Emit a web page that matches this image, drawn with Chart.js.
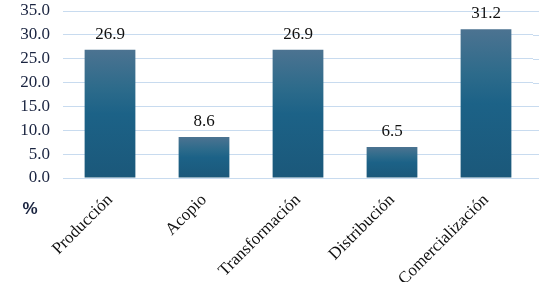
<!DOCTYPE html>
<html>
<head>
<meta charset="utf-8">
<script src="https://cdn.jsdelivr.net/npm/chart.js@4/dist/chart.umd.min.js"></script>
<style>
  html, body { margin: 0; padding: 0; background: #ffffff; }
  #wrap { width: 539px; height: 282px; }
</style>
</head>
<body>
<div id="wrap"><canvas id="c" width="539" height="282"></canvas></div>
<script>
const categories = ['Producción', 'Acopio', 'Transformación', 'Distribución', 'Comercialización'];
const values = [26.9, 8.6, 26.9, 6.5, 31.2];
const yTicks = [0, 5, 10, 15, 20, 25, 30, 35];
const unitLabel = '%';

const serif = '"Liberation Serif", "Times New Roman", serif';

const valueLabels = {
  id: 'valueLabels',
  afterDatasetsDraw(chart) {
    const ctx = chart.ctx;
    const meta = chart.getDatasetMeta(0);
    ctx.save();
    ctx.font = '17px ' + serif;
    ctx.fillStyle = '#111111';
    ctx.textAlign = 'center';
    ctx.textBaseline = 'alphabetic';
    meta.data.forEach((bar, i) => {
      ctx.fillText(values[i].toFixed(1), bar.x, bar.y - 11);
    });
    ctx.restore();
  }
};

const unitText = {
  id: 'unitText',
  afterDraw(chart) {
    const ctx = chart.ctx;
    ctx.save();
    ctx.font = 'bold 17px "Liberation Sans", sans-serif';
    ctx.fillStyle = '#1a2440';
    ctx.textAlign = 'center';
    ctx.textBaseline = 'middle';
    ctx.fillText(unitLabel, 30, 209);
    ctx.restore();
  }
};

const gridExtend = {
  id: 'gridExtend',
  beforeDatasetsDraw(chart) {
    const ctx = chart.ctx;
    const y = chart.scales.y;
    const a = chart.chartArea;
    ctx.save();
    ctx.strokeStyle = '#c8dbef';
    ctx.lineWidth = 1;
    yTicks.forEach(t => {
      const py = Math.round(y.getPixelForValue(t)) + 0.5;
      ctx.beginPath();
      ctx.moveTo(a.right, py);
      ctx.lineTo(539, py);
      ctx.stroke();
    });
    ctx.restore();
  }
};

function barGradient(context) {
  const chart = context.chart;
  if (!chart.chartArea || !chart.scales.y) return '#1c6287';
  const v = values[context.dataIndex];
  const y = chart.scales.y;
  const top = y.getPixelForValue(v);
  const bottom = y.getPixelForValue(0);
  if (!isFinite(top) || !isFinite(bottom) || top === bottom) return '#1c6287';
  const g = chart.ctx.createLinearGradient(0, top, 0, bottom);
  g.addColorStop(0, '#4c7391');
  g.addColorStop(0.3, '#2d6b8b');
  g.addColorStop(0.5, '#1c6287');
  g.addColorStop(1, '#1b587a');
  return g;
}

new Chart(document.getElementById('c'), {
  type: 'bar',
  data: {
    labels: categories,
    datasets: [{
      data: values,
      backgroundColor: barGradient,
      borderWidth: 0,
      categoryPercentage: 1.0,
      barPercentage: 0.54
    }]
  },
  options: {
    responsive: false,
    animation: false,
    devicePixelRatio: 1,
    layout: { padding: { left: 0, right: 6, top: 11, bottom: 0 } },
    plugins: {
      legend: { display: false },
      tooltip: { enabled: false }
    },
    scales: {
      x: {
        grid: { display: false },
        border: { display: false },
        ticks: {
          font: { family: serif, size: 17 },
          color: '#111111',
          maxRotation: 45,
          minRotation: 45,
          autoSkip: false,
          padding: 4
        },
        afterFit(axis) {
          axis.height = 104;
          axis.paddingLeft = 0;
          axis.paddingRight = 0;
        }
      },
      y: {
        min: 0,
        max: 35,
        afterBuildTicks(axis) { axis.ticks = yTicks.map(v => ({ value: v })); },
        grid: { color: '#c8dbef', lineWidth: 1, drawTicks: false },
        border: { display: false },
        ticks: {
          font: { family: serif, size: 17 },
          color: '#1a2440',
          padding: 13,
          autoSkip: false,
          callback: v => Number(v).toFixed(1)
        },
        afterFit(axis) {
          axis.width = 63;
          axis.paddingTop = 0;
          axis.paddingBottom = 0;
        }
      }
    }
  },
  plugins: [gridExtend, valueLabels, unitText]
});
</script>
</body>
</html>
